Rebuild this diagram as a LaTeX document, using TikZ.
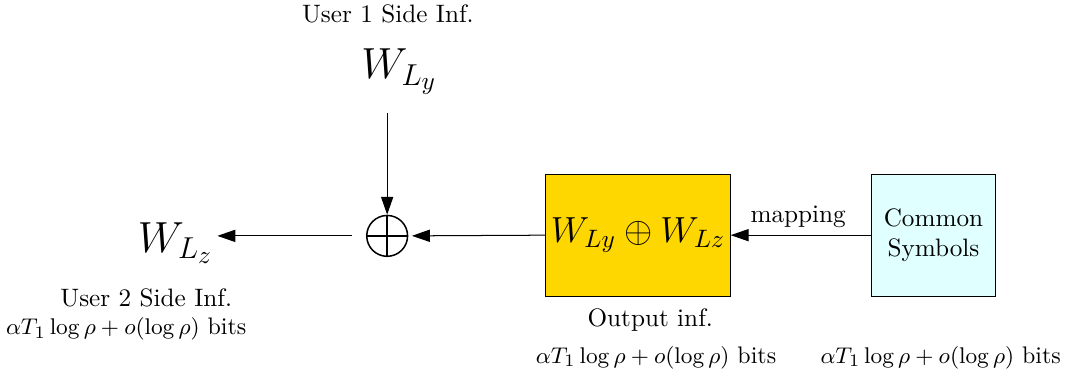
\documentclass[tikz,border=0pt]{standalone}
\usepackage{tikz}
\usetikzlibrary{shapes, arrows.meta, positioning, calc}
\usepackage{amsmath}

\begin{document}
\begin{tikzpicture}[
  block/.style={draw, minimum width=2.57cm, minimum height=1.7cm, align=center},
  xorsym/.style={draw, circle, minimum size=0.57cm, inner sep=0pt, semithick,
    path picture={\draw (path picture bounding box.north) -- (path picture bounding box.south)
      (path picture bounding box.west) -- (path picture bounding box.east);}},
  bits/.style={font=\fontsize{9.5}{11}\selectfont},
  arr/.style={-{Triangle[length=2.5mm, width=1.7mm]}}
]
  \useasboundingbox (0, 0) rectangle (14.91, -5.31);

  % Side information
  \node (user1) at (5.41, -0.2) {User 1 Side Inf.};
  \node[font=\LARGE] (wly) at (5.57, -1.0) {$W_{L_y}$};
  \node[font=\LARGE] (wlz) at (2.45, -3.39) {$W_{L_z}$};
  \node (user2) at (2.04, -4.16) {User 2 Side Inf.};
  \node[bits] (bitsz) at (1.76, -4.59) {$\alpha T_1 \log\rho + o(\log\rho)$ bits};

  % XOR
  \node[xorsym] (oplus) at (5.4, -3.29) {};

  % Blocks
  \node[block, inner sep=1pt, fill={rgb,255:red,255;green,215;blue,0}, font=\Large] (out) at (8.9, -3.28) {$W_{Ly}\oplus W_{Lz}$};
  \node[block, fill={rgb,255:red,224;green,255;blue,255}, minimum width=1.72cm] (common) at (13.02, -3.28) {Common\\Symbols};
  \node (outinf) at (9.07, -4.46) {Output inf.};
  \node[bits] (bitsout) at (9.15, -4.99) {$\alpha T_1 \log\rho + o(\log\rho)$ bits};
  \node[bits] (bitscom) at (13.12, -4.99) {$\alpha T_1 \log\rho + o(\log\rho)$ bits};

  % Arrows
  \draw[arr, shorten <=0.13cm] (oplus |- wly.south) -- (oplus);
  \draw[arr, shorten <=0.2cm, shorten >=-0.07cm] (oplus.west) -- (wlz.east |- oplus.west);
  \draw[arr, shorten >=0.05cm] (out.west) -- (oplus.east);
  \draw[arr] (common.west |- out.west) -- node[above=-0.5pt, pos=0.52] {mapping} (out.east);

\end{tikzpicture}
\end{document}
